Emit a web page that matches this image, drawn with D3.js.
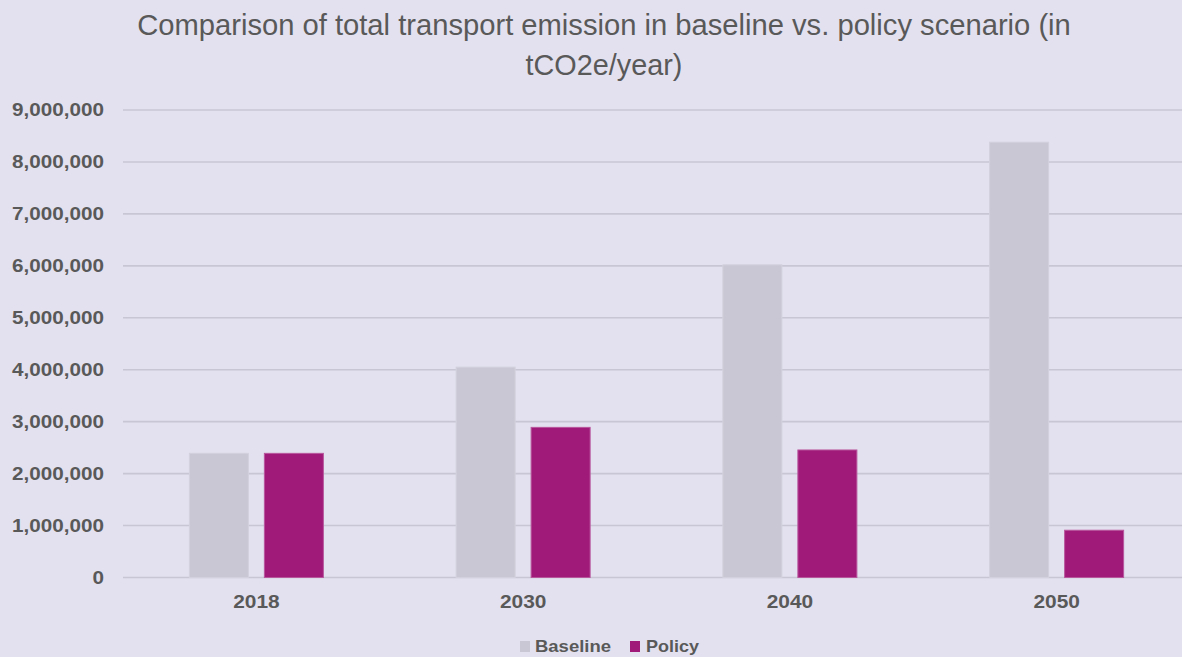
<!DOCTYPE html>
<html>
<head>
<meta charset="utf-8">
<script src="https://cdn.jsdelivr.net/npm/d3@7"></script>
<style>
  html, body { margin: 0; padding: 0; background: #e3e1ef; }
  svg { display: block; }
</style>
</head>
<body>
<svg id="chart" width="1182" height="657"></svg>
<script>
// Total transport emissions (tCO2e/year)
const years = ["2018", "2030", "2040", "2050"];
const seriesNames = ["Baseline", "Policy"];
const baseline = [2390000, 4050000, 6020000, 8380000];
const policy = [2390000, 2890000, 2455000, 910000];
const yTickValues = [0, 1000000, 2000000, 3000000, 4000000, 5000000, 6000000, 7000000, 8000000, 9000000];
const titleLines = ["Comparison of total transport emission in baseline vs. policy scenario (in", "tCO2e/year)"];

const W = 1182, H = 657;
const plot = { left: 123, right: 1190, top: 110, bottom: 577.5 };
const colors = { Baseline: "#c9c7d3", Policy: "#a01a79" };
const strokeColors = { Baseline: "#d3d1dd", Policy: "#b8569c" };
const textColor = "#595959";
const gridColor = "#c8c6d4";

const svg = d3.select("#chart");
svg.append("rect").attr("width", W).attr("height", H).attr("fill", "#e3e1ef");

const y = d3.scaleLinear().domain([0, 9000000]).range([plot.bottom, plot.top]);
const x0 = d3.scaleBand().domain(years).range([plot.left, plot.right]).paddingInner(0).paddingOuter(0);
const groupWidth = 135;
const x1 = d3.scaleBand().domain(seriesNames).range([0, groupWidth]).paddingInner(0.2).paddingOuter(0);

// Horizontal stretch factor that makes a text element span the given width
function fitWidth(node, target) {
  const len = node.getComputedTextLength();
  return target / len;
}

// Gridlines
svg.append("g").selectAll("line").data(yTickValues).join("line")
  .attr("x1", plot.left).attr("x2", plot.right)
  .attr("y1", d => y(d)).attr("y2", d => y(d))
  .attr("stroke", gridColor).attr("stroke-width", 1.6);

// Y tick labels
const fmt = d3.format(",");
const yLabels = svg.append("g").selectAll("text").data(yTickValues).join("text")
  .attr("text-anchor", "end")
  .attr("font-family", "Liberation Sans, Arial, sans-serif")
  .attr("font-weight", "bold")
  .attr("font-size", 17.5)
  .attr("fill", textColor)
  .attr("dy", "0.36em")
  .text(d => fmt(d));
const ySx = fitWidth(yLabels.filter(d => d === 9000000).node(), 92);
yLabels.attr("transform", d => `translate(104,${y(d)}) scale(${ySx},1)`);

// Bars
const series = { Baseline: baseline, Policy: policy };
const groups = svg.append("g").selectAll("g").data(years).join("g")
  .attr("transform", d => `translate(${x0(d) + (x0.bandwidth() - groupWidth) / 2},0)`);
groups.selectAll("rect")
  .data((d, i) => seriesNames.map(s => ({ key: s, value: series[s][i] })))
  .join("rect")
  .attr("x", d => x1(d.key) + 0.5)
  .attr("width", x1.bandwidth() - 1)
  .attr("y", d => y(d.value))
  .attr("height", d => y(0) - y(d.value))
  .attr("fill", d => colors[d.key])
  .attr("stroke", d => strokeColors[d.key])
  .attr("stroke-width", 1);

// X axis labels
const xLabels = svg.append("g").selectAll("text").data(years).join("text")
  .attr("text-anchor", "middle")
  .attr("font-family", "Liberation Sans, Arial, sans-serif")
  .attr("font-weight", "bold")
  .attr("font-size", 18)
  .attr("fill", textColor)
  .text(d => d);
const xSx = fitWidth(xLabels.node(), 46.5);
xLabels.attr("transform", d => `translate(${x0(d) + x0.bandwidth() / 2},608) scale(${xSx},1)`);

// Title
const titleTargets = [934, 157];
svg.append("g").selectAll("text").data(titleLines).join("text")
  .attr("text-anchor", "middle")
  .attr("font-family", "Liberation Sans Narrow, Arial Narrow, Liberation Sans, sans-serif")
  .attr("font-size", 30)
  .attr("fill", textColor)
  .text(d => d)
  .each(function (d, i) {
    const sx = fitWidth(this, titleTargets[i]);
    d3.select(this).attr("transform", `translate(604,${i === 0 ? 35 : 75}) scale(${sx},1)`);
  });

// Legend
const legendItems = [
  { key: "Baseline", sx: 520, tx: 535, w: 76 },
  { key: "Policy", sx: 630, tx: 646, w: 53 }
];
const legend = svg.append("g");
legendItems.forEach(it => {
  legend.append("rect")
    .attr("x", it.sx).attr("y", 641).attr("width", 10).attr("height", 11)
    .attr("fill", colors[it.key]);
  const t = legend.append("text")
    .attr("font-family", "Liberation Sans, Arial, sans-serif")
    .attr("font-weight", "bold")
    .attr("font-size", 17)
    .attr("fill", textColor)
    .text(it.key);
  const s = fitWidth(t.node(), it.w);
  t.attr("transform", `translate(${it.tx},652) scale(${s},1)`);
});
</script>
</body>
</html>
